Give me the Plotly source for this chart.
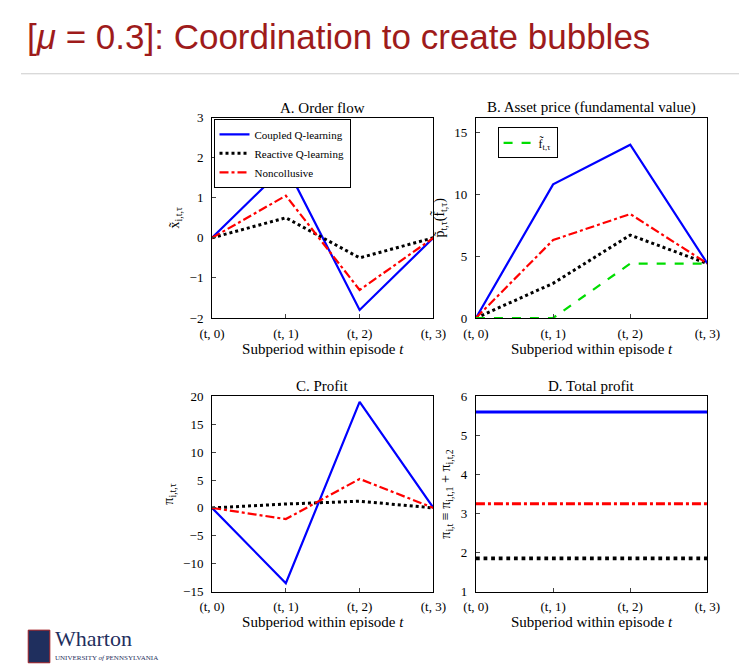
import plotly.graph_objects as go
from plotly.subplots import make_subplots

ticks = ["(t, 0)", "(t, 1)", "(t, 2)", "(t, 3)"]

# A. order flow
a_coupled = [0, 1.8, -1.8, 0]
a_reactive = [0, 0.5, -0.5, 0]
a_noncoll = [0, 1.05, -1.3, 0]
# B. asset price
b_coupled = [0, 10.8, 14.0, 4.4]
b_reactive = [0, 2.8, 6.7, 4.4]
b_noncoll = [0, 6.3, 8.4, 4.4]
b_fund = [0, 0, 4.4, 4.4]
# C. profit
c_coupled = [0, -13.5, 19.0, 0]
c_reactive = [0, 0.7, 1.2, 0]
c_noncoll = [0, -2.0, 5.2, 0]
# D. total profit
d_coupled = 5.6
d_reactive = 1.85
d_noncoll = 3.25

BLUE = "#0000ff"
RED = "#ff0000"
BLACK = "#000000"
GREEN = "#00dd00"
serif = "Liberation Serif"

fig = make_subplots(rows=2, cols=2)
x = [0, 1, 2, 3]


def add_three(row, col, cp, re, nc, width=2.2, legend=False):
    fig.add_trace(go.Scatter(x=x, y=cp, mode="lines", name="Coupled Q-learning",
                             line=dict(color=BLUE, width=width), showlegend=legend), row=row, col=col)
    fig.add_trace(go.Scatter(x=x, y=re, mode="lines", name="Reactive Q-learning",
                             line=dict(color=BLACK, width=width + 0.8, dash="dot"), showlegend=legend), row=row, col=col)
    fig.add_trace(go.Scatter(x=x, y=nc, mode="lines", name="Noncollusive",
                             line=dict(color=RED, width=width, dash="dashdot"), showlegend=legend), row=row, col=col)


add_three(1, 1, a_coupled, a_reactive, a_noncoll, legend=True)
add_three(1, 2, b_coupled, b_reactive, b_noncoll)
fig.add_trace(go.Scatter(x=x, y=b_fund, mode="lines", name="f̃<sub>t,τ</sub>",
                         line=dict(color=GREEN, width=2.2, dash="dash"), legend="legend2"), row=1, col=2)
add_three(2, 1, c_coupled, c_reactive, c_noncoll)
add_three(2, 2, [d_coupled] * 4, [d_reactive] * 4, [d_noncoll] * 4, width=3)

xd = [[0.265, 0.572], [0.631, 0.952]]
yd = [[0.536, 0.843], [0.117, 0.416]]
yranges = {(1, 1): [-2, 3], (1, 2): [0, 16.2], (2, 1): [-15, 20], (2, 2): [1, 6]}
ytitles = {(1, 1): "x̃<sub>i,t,τ</sub>", (1, 2): "p̃<sub>t,τ</sub>(f̃<sub>t,τ</sub>)",
           (2, 1): "π<sub>i,t,τ</sub>", (2, 2): "π<sub>i,t</sub> ≡ π<sub>i,t,1</sub> + π<sub>i,t,2</sub>"}
ytickvals = {(1, 1): [-2, -1, 0, 1, 2, 3], (1, 2): [0, 5, 10, 15],
             (2, 1): [-15, -10, -5, 0, 5, 10, 15, 20], (2, 2): [1, 2, 3, 4, 5, 6]}
titles = {(1, 1): "A. Order flow", (1, 2): "B. Asset price (fundamental value)",
          (2, 1): "C. Profit", (2, 2): "D. Total profit"}

for r in (1, 2):
    for c in (1, 2):
        ax = dict(showline=True, mirror=True, linecolor="black", linewidth=1, ticks="inside",
                  ticklen=4, showgrid=False, zeroline=False,
                  tickfont=dict(family=serif, size=13, color="black"))
        fig.update_xaxes(ax, domain=xd[c - 1], range=[0, 3], tickvals=x, ticktext=ticks,
                         ticklabelstandoff=3,
                         title=dict(text="Subperiod within episode <i>t</i>", standoff=2,
                                    font=dict(family=serif, size=15, color="black")), row=r, col=c)
        fig.update_yaxes(ax, domain=yd[r - 1], range=yranges[(r, c)], tickvals=ytickvals[(r, c)],
                         ticklabelstandoff=5,
                         title=dict(text=ytitles[(r, c)], standoff=6,
                                    font=dict(family=serif, size=14, color="black")), row=r, col=c)
        fig.add_annotation(text=titles[(r, c)], xref="paper", yref="paper",
                           x=sum(xd[c - 1]) / 2, y=yd[r - 1][1], yanchor="bottom", xanchor="center",
                           showarrow=False, font=dict(family=serif, size=15, color="black"))

fig.add_annotation(text="[<i>μ</i> = 0.3]: Coordination to create bubbles", xref="paper", yref="paper",
                   x=0.005, y=1.0, xanchor="left", yanchor="top", showarrow=False,
                   font=dict(family="Liberation Sans", size=35, color="#9e1b1b"))
fig.add_shape(type="line", xref="paper", yref="paper", x0=0, x1=1, y0=0.91, y1=0.91,
              line=dict(color="#cccccc", width=1))
fig.add_annotation(text="Wharton", xref="paper", yref="paper", x=0.045, y=0.045, xanchor="left",
                   yanchor="middle", showarrow=False,
                   font=dict(family=serif, size=22, color="#1f2f5e"))
fig.add_annotation(text="UNIVERSITY <i>of</i> PENNSYLVANIA", xref="paper", yref="paper", x=0.045, y=0.015,
                   xanchor="left", yanchor="middle", showarrow=False,
                   font=dict(family=serif, size=7, color="#1f2f5e"))
fig.add_shape(type="rect", xref="paper", yref="paper", x0=0.01, x1=0.04, y0=0.008, y1=0.058,
              fillcolor="#1f2f5e", line=dict(color="#a01d22", width=1))

fig.update_layout(
    width=747, height=668, margin=dict(l=0, r=0, t=0, b=0),
    paper_bgcolor="white", plot_bgcolor="white",
    legend=dict(x=xd[0][0] + 0.002, y=yd[0][1] - 0.002, xanchor="left", yanchor="top",
                bordercolor="black", borderwidth=1, bgcolor="white", tracegroupgap=0,
                itemwidth=30, font=dict(family=serif, size=11, color="black")),
    legend2=dict(x=xd[1][0] + 0.03, y=yd[0][1] - 0.015, xanchor="left", yanchor="top",
                 bordercolor="black", borderwidth=1, bgcolor="white", itemwidth=30,
                 font=dict(family=serif, size=12, color="black")),
)

fig.write_html("out.html")
